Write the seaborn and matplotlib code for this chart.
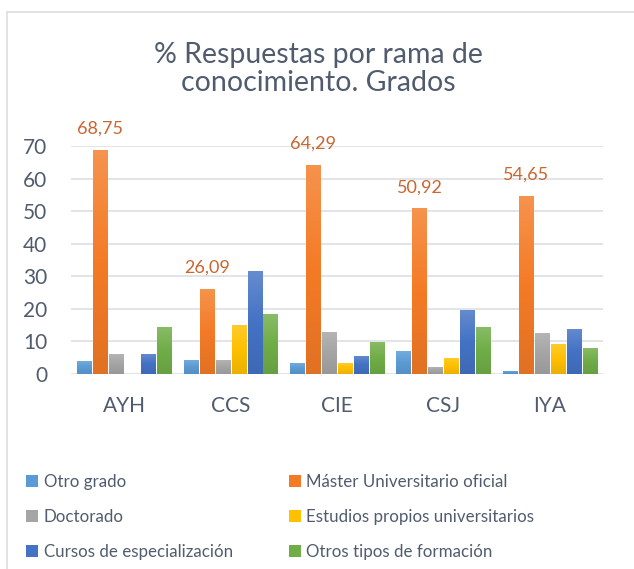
import numpy as np
import pandas as pd
import matplotlib
matplotlib.use('Agg')
import matplotlib.pyplot as plt
from matplotlib.colors import LinearSegmentedColormap, to_rgb
from matplotlib.patches import Patch
from matplotlib.lines import Line2D
import seaborn as sns

# Chart data
ramas = ['AYH', 'CCS', 'CIE', 'CSJ', 'IYA']
series = ['Otro grado', 'Máster Universitario oficial', 'Doctorado',
          'Estudios propios universitarios', 'Cursos de especialización',
          'Otros tipos de formación']
otro_grado = [4.1, 4.4, 3.5, 7.1, 1.0]
master = [68.75, 26.09, 64.29, 50.92, 54.65]
doctorado = [6.2, 4.4, 13.0, 2.2, 12.7]
estudios_propios = [0.0, 15.1, 3.5, 5.0, 9.3]
cursos = [6.2, 31.6, 5.6, 19.7, 13.9]
otros = [14.5, 18.5, 9.9, 14.5, 8.1]

colors = ['#5B9BD5', '#F47B26', '#A5A5A5', '#FFC000', '#4472C4', '#70AD47']
text_color = '#505C6E'
label_color = '#C9652F'

values = [otro_grado, master, doctorado, estudios_propios, cursos, otros]
df = pd.DataFrame({
    'rama': ramas * len(series),
    'serie': np.repeat(series, len(ramas)),
    'valor': np.concatenate(values),
})

sns.set_theme(style='white')
plt.rcParams['font.family'] = ['Lato', 'DejaVu Sans']

fig = plt.figure(figsize=(6.34, 5.69), dpi=100)
W, H = 634, 569
ax = fig.add_axes([71 / W, 1 - 374 / H, (603 - 71) / W, (374 - 146) / H])

sns.barplot(data=df, x='rama', y='valor', hue='serie', hue_order=series,
            palette=colors, width=0.9, gap=0.12, legend=False, ax=ax,
            saturation=1, order=ramas)


def shade(c, f):
    r = np.array(to_rgb(c))
    if f > 0:
        return tuple(r + (1 - r) * f)
    return tuple(r * (1 + f))


# Excel-like vertical gradient on each bar
for cont, col in zip(ax.containers, colors):
    cmap = LinearSegmentedColormap.from_list(
        'g', [shade(col, -0.08), col, shade(col, 0.18)])
    for bar in cont:
        h = bar.get_height()
        if h <= 0:
            bar.set_visible(False)
            continue
        x0 = bar.get_x()
        w = bar.get_width()
        grad = np.linspace(0, 1, 100).reshape(-1, 1)
        im = ax.imshow(grad, extent=[x0, x0 + w, 0, h], origin='lower',
                       cmap=cmap, aspect='auto', zorder=2)
        im.set_clip_path(bar)
        bar.set_facecolor('none')
        bar.set_edgecolor('none')

# labels on the Máster series
for bar, v in zip(ax.containers[1], master):
    ax.annotate(f'{v:.2f}'.replace('.', ','),
                (bar.get_x() + bar.get_width() / 2, bar.get_height()),
                xytext=(0, 11.5), textcoords='offset points',
                ha='center', va='baseline', fontsize=13, color=label_color,
                annotation_clip=False)

ax.set_xlim(-0.5, 4.5)
ax.set_ylim(0, 70)
ax.set_yticks(range(0, 71, 10))
ax.yaxis.grid(True, color='#DADDE2', lw=1.1)
ax.set_axisbelow(True)
for s in ax.spines.values():
    s.set_visible(False)
ax.tick_params(axis='y', length=0, pad=17, labelsize=15, labelcolor=text_color)
ax.tick_params(axis='x', length=0, pad=16, labelsize=15, labelcolor=text_color)
ax.set_xlabel('')
ax.set_ylabel('')

fig.text(318 / W, 1 - 69 / H, '% Respuestas por rama de\nconocimiento. Grados',
         ha='center', va='center', fontsize=20.5, color=text_color,
         linespacing=1.1)

# chart area border
fig.add_artist(Line2D([6.5 / W, 1], [1 - 11.5 / H] * 2, color='#DADDE2', lw=1.2))
fig.add_artist(Line2D([6.5 / W] * 2, [0, 1 - 11.5 / H], color='#DADDE2', lw=1.2))

handles = [Patch(facecolor=c, edgecolor='none') for c in colors]
order = [0, 2, 4, 1, 3, 5]
fig.legend([handles[i] for i in order], [series[i] for i in order],
           ncols=2, loc='upper left', bbox_to_anchor=(11 / W, 1 - 459 / H),
           frameon=False, fontsize=12.2, labelcolor=text_color,
           handlelength=0.72, handleheight=0.72, handletextpad=0.3,
           columnspacing=3.3, labelspacing=1.1)

fig.savefig('out.png', dpi=100, facecolor='white')
